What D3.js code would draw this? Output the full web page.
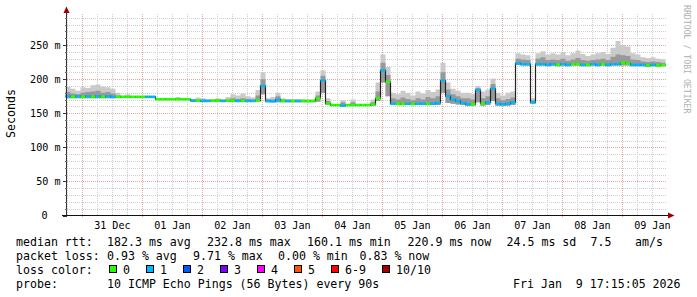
<!DOCTYPE html>
<html><head><meta charset="utf-8">
<script src="https://cdn.jsdelivr.net/npm/d3@7"></script>
<style>
html,body{margin:0;padding:0;background:#fff;}
svg{display:block;font-family:"DejaVu Sans Mono",monospace;}
text{white-space:pre;}
</style></head><body>
<svg id="c" width="697" height="297"></svg>
<script>
// ---------- data ----------
const startTime = new Date(2025, 11, 30, 17, 15, 5);
const endTime = new Date(2026, 0, 9, 17, 15, 5);
const stepHours = 2;

const median = [175,174,175,174,175,174,175,174,175,174,
  174,174,174,174,174,174,174,174,
  170.5,170.5,170.5,170.5,170.5,170.5,170.5,
  168.5,168.5,168,168,168.5,168.5,168,168.5,168.5,168,168,168,168,169,
  190,
  168,167.5,170,168,168,168,168,168,168,168,172,
  198,164,
  162,162,161,162,162,162,162,162,163,
  172,213,196,
  164,164,163.5,164,163.5,164,164,163.5,164,165,
  198,175,
  170,168,165,163,163,184,164,166,186,164,163,164,166,
  223,222,222,166,222,
  222,221,222,221,222,221,222,222,221,221,222,221,222,221,222,222,224,223,221,221,221,220,221,220,220.9];

const smokeHi = [189,186,183,188,187,191,192,189,188,186,
  180,176,178,175.5,175.5,175.5,175.5,175.5,
  172,172,172,172,174,172,172,
  171,173,172,171,171,172,171,174,178,176,179,175,173,184,
  210,
  172,174,180,172,171,171,171,171,170,170,182,
  213,172,
  163.5,163.5,169,163.5,170,163.5,163.5,163.5,170,
  195,236,218,
  180,178,183,180,176,182,179,184,181,185,
  224,195,
  186,183,180,180,178,190,182,185,201,180,176,180,182,
  238,236,235,172,238,
  241,236,238,236,240,235,238,242,237,234,236,238,240,237,246,256,250,248,238,236,232,231,232,230,229];

const smokeMid = [181,179,178,180,181,182,183,180,181,179,
  176,175,175,175,175,175,175,175,
  171,171,171,171,171,171,171,
  170,170,170,169.5,169.5,170,169.5,170,172,171,172,171,170,176,
  200,
  170,170,175,170,169.5,169.5,169.5,169.5,169,169,176,
  205,168,
  163,163,166,163,166,163,163,163,166,
  182,224,206,
  172,170,173,171,169,172,170,174,172,175,
  210,185,
  178,175,172,172,170,187,172,175,193,172,169,171,173,
  230,229,228,169,230,
  232,228,229,228,230,227,229,231,228,227,228,229,230,228,233,236,235,234,229,228,226,225,226,225,224];

const smokeLo = [172,172,172,172,172,172,172,172,172,172,
  173,173,173,173,173,173,173,173,
  169.5,169.5,169.5,169.5,169.5,169.5,169.5,
  167,167,167,167,167,167,167,167,167,167,167,167,167,167,
  178,
  166,166,166,166,166,166,166,166,166,166,167,
  180,162,
  161,161,159,161,161,161,161,161,161,
  168,195,175,
  162,162,162,162,162,162,162,162,162,162,
  180,165,
  164,163,162,161,161,166,161,162,168,161,161,161,162,
  221,220,220,164,220,
  220,219,220,219,220,219,220,220,219,219,220,219,220,219,220,220,220,220,219,219,219,218,219,218,219];

const lossCount = [1,0,1,0,1,0,1,0,1,1,
  0,0,0,0,0,0,1,1,
  0,0,0,0,0,0,0,
  1,0,1,1,0,0,1,0,0,1,0,1,1,0,
  1,
  1,1,1,0,1,0,1,0,0,0,0,
  1,0,
  0,0,1,0,0,0,0,0,0,
  0,1,0,
  1,0,0,1,0,1,1,0,1,1,
  1,1,
  1,1,1,1,0,1,0,1,1,1,1,1,1,
  1,1,1,1,1,
  1,1,1,0,1,1,0,0,1,0,1,1,0,1,1,1,0,0,1,1,1,0,1,0,0];

const lossLabels = ["0","1","2","3","4","5","6-9","10/10"];
const lossColors = ["#26ff00","#00b8ff","#0059ff","#7e00ff","#ff00ff","#ff5500","#ff0000","#a10000"];

const yTicks = [0,50,100,150,200,250];
const yTickLabels = ["0","50 m","100 m","150 m","200 m","250 m"];

const rttLabel = "median rtt:";
const rttStats = ["182.3 ms avg","232.8 ms max","160.1 ms min","220.9 ms now","24.5 ms sd","7.5","am/s"];
const lossLabel = "packet loss:";
const lossStats = ["0.93 % avg","9.71 % max","0.00 % min","0.83 % now"];
const colorLabel = "loss color:";
const probeLabel = "probe:";
const probeText = "10 ICMP Echo Pings (56 Bytes) every 90s";
const dateText = "Fri Jan  9 17:15:05 2026";
const yTitle = "Seconds";
const watermark = "RRDTOOL / TOBI OETIKER";

// ---------- layout ----------
const svg = d3.select("#c");
const plotL = 65.5, plotR = 665.5, plotTop = 12, plotBottom = 215.5;
const x = d3.scaleTime().domain([startTime, endTime]).range([plotL, plotR]);
const y = d3.scaleLinear().domain([0, 298.5]).range([plotBottom, plotTop]);

const data = median.map((m, i) => ({
  t: d3.timeHour.offset(startTime, i * stepHours),
  t2: d3.timeHour.offset(startTime, (i + 1) * stepHours),
  med: m, hi: smokeHi[i], mid: smokeMid[i], lo: smokeLo[i], loss: lossCount[i]
}));
const dataExt = data.concat([{t: data[data.length-1].t2, med: median[median.length-1],
  hi: smokeHi[smokeHi.length-1], mid: smokeMid[smokeMid.length-1], lo: smokeLo[smokeLo.length-1]}]);

// grid
const g = svg.append("g").attr("shape-rendering", "crispEdges");
const minorY = d3.range(10, 300, 10).filter(v => v % 50 !== 0 && y(v) >= plotTop);
g.selectAll(".hmin").data(minorY).enter().append("line")
  .attr("x1", plotL + 1).attr("x2", plotR).attr("y1", d => Math.round(y(d)) + 0.5).attr("y2", d => Math.round(y(d)) + 0.5)
  .attr("stroke", "#cfcfcf").attr("stroke-dasharray", "1,1");
const minorX = d3.timeHour.every(6).range(startTime, endTime).filter(d => d.getHours() !== 0);
g.selectAll(".vmin").data(minorX).enter().append("line")
  .attr("x1", d => Math.round(x(d)) + 0.5).attr("x2", d => Math.round(x(d)) + 0.5)
  .attr("y1", plotTop + 2).attr("y2", plotBottom)
  .attr("stroke", "#cfcfcf").attr("stroke-dasharray", "1,1");
g.selectAll(".hmaj").data(yTicks.filter(v => v > 0)).enter().append("line")
  .attr("x1", plotL + 1).attr("x2", plotR).attr("y1", d => Math.round(y(d)) + 0.5).attr("y2", d => Math.round(y(d)) + 0.5)
  .attr("stroke", "#e6a4a4").attr("stroke-dasharray", "1,1");
const majorX = d3.timeDay.range(startTime, endTime);
g.selectAll(".vmaj").data(majorX).enter().append("line")
  .attr("x1", d => Math.round(x(d)) + 0.5).attr("x2", d => Math.round(x(d)) + 0.5)
  .attr("y1", plotTop + 2).attr("y2", plotBottom + 2)
  .attr("stroke", "#e6a4a4").attr("stroke-dasharray", "1,1");

// smoke
const areaOuter = d3.area().curve(d3.curveStepAfter).x(d => x(d.t)).y0(d => y(d.lo)).y1(d => y(d.hi));
const areaInner = d3.area().curve(d3.curveStepAfter).x(d => x(d.t)).y0(d => y(d.lo)).y1(d => y(d.mid));
svg.append("path").datum(dataExt).attr("d", areaOuter).attr("fill", "#cacaca");
svg.append("path").datum(dataExt).attr("d", areaInner).attr("fill", "#999999");

// median step connectors
const stepLine = d3.line().curve(d3.curveStepAfter).x(d => x(d.t)).y(d => y(d.med));
svg.append("path").datum(dataExt).attr("d", stepLine).attr("fill", "none")
  .attr("stroke", "#222").attr("stroke-width", 1.2);

// median colored by loss
const lossIndex = c => c >= 10 ? 7 : (c >= 6 ? 6 : c);
svg.append("g").selectAll("line").data(data).enter().append("line")
  .attr("x1", d => x(d.t)).attr("x2", d => x(d.t2))
  .attr("y1", d => y(d.med)).attr("y2", d => y(d.med))
  .attr("stroke", d => lossColors[lossIndex(d.loss)]).attr("stroke-width", 2.6);

// axes
const ax = svg.append("g").attr("shape-rendering", "crispEdges");
ax.append("line").attr("x1", 66.5).attr("x2", 66.5).attr("y1", 12).attr("y2", 216).attr("stroke", "#333");
ax.append("line").attr("x1", 62).attr("x2", 669).attr("y1", 215.5).attr("y2", 215.5).attr("stroke", "#111");
ax.selectAll(".ytk").data(yTicks).enter().append("line")
  .attr("x1", 62.5).attr("x2", 66.5).attr("y1", d => Math.round(y(d)) + 0.5).attr("y2", d => Math.round(y(d)) + 0.5)
  .attr("stroke", "#333");
ax.selectAll(".ytm").data(minorY).enter().append("line")
  .attr("x1", 64.5).attr("x2", 66.5).attr("y1", d => Math.round(y(d)) + 0.5).attr("y2", d => Math.round(y(d)) + 0.5)
  .attr("stroke", "#666");
svg.append("path").attr("d", "M66.5,6.5 L63.5,13 L69.5,13 Z").attr("fill", "#9b0000");
svg.append("path").attr("d", "M674.5,215.5 L668,212.5 L668,218.5 Z").attr("fill", "#9b0000");

// y labels
svg.append("g").selectAll("text").data(yTicks).enter().append("text")
  .attr("x", (d, i) => i === 0 ? 47.5 : 60.5).attr("y", d => y(d) + 3.6)
  .attr("text-anchor", "end").attr("font-size", "10.1px").attr("fill", "#000")
  .text((d, i) => yTickLabels[i]);

// x labels at noon
const noonTicks = d3.timeDay.range(startTime, endTime).map(d => d3.timeHour.offset(d, 12)).filter(d => d <= endTime);
svg.append("g").selectAll("text").data(noonTicks).enter().append("text")
  .attr("x", d => x(d)).attr("y", 228.5).attr("text-anchor", "middle")
  .attr("font-size", "10.1px").attr("fill", "#000")
  .text(d => d3.timeFormat("%d %b")(d));

// titles
svg.append("text").attr("transform", "translate(15,113.5) rotate(-90)").attr("text-anchor", "middle")
  .attr("font-size", "11.6px").attr("fill", "#000").text(yTitle);
svg.append("text").attr("transform", "translate(683.5,5) rotate(90)").attr("text-anchor", "start")
  .attr("font-size", "8.2px").attr("fill", "#b0b0b0").text(watermark);

// legend
const fs = "11.6px";
const lg = svg.append("g").attr("font-size", fs).attr("fill", "#000");
lg.append("text").attr("x", 16).attr("y", 245.5).text(rttLabel);
const rttX = [107, 207, 307, 407.5, 506.5, 590.5, 635];
rttStats.forEach((s, i) => lg.append("text").attr("x", rttX[i]).attr("y", 245.5).text(s));
lg.append("text").attr("x", 16).attr("y", 259.5).text(lossLabel);
const lossX = [107, 193, 278, 359.5];
lossStats.forEach((s, i) => lg.append("text").attr("x", lossX[i]).attr("y", 259.5).text(s));
lg.append("text").attr("x", 16).attr("y", 273.5).text(colorLabel);
let bx = 108.5;
lossLabels.forEach((lab, i) => {
  lg.append("rect").attr("x", bx + 0.5).attr("y", 265.5).attr("width", 7).attr("height", 7)
    .attr("fill", lossColors[i]).attr("stroke", "#000").attr("stroke-width", 1).attr("shape-rendering", "crispEdges");
  lg.append("text").attr("x", bx + 14.5).attr("y", 273.5).text(lab);
  bx += 30 + 7 * lab.length;
});
lg.append("text").attr("x", 16).attr("y", 287.5).text(probeLabel);
lg.append("text").attr("x", 107).attr("y", 287.5).text(probeText);
lg.append("text").attr("x", 513).attr("y", 287.5).text(dateText);
</script>
</body></html>
